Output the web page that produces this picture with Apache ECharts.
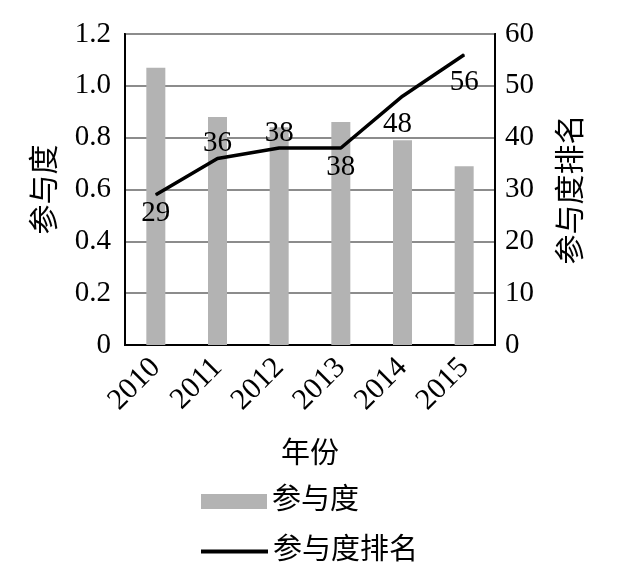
<!DOCTYPE html>
<html><head><meta charset="utf-8">
<script src="https://cdn.jsdelivr.net/npm/echarts@6/dist/echarts.min.js"></script>
<style>html,body{margin:0;padding:0;background:#fff}#c{width:621px;height:566px}</style>
</head><body><div id="c"></div>
<script>
const categories = ['2010','2011','2012','2013','2014','2015'];
const participation = [1.07, 0.88, 0.84, 0.86, 0.79, 0.69];
const ranking = [29, 36, 38, 38, 48, 56];
const rankLabelPos = ['bottom','top','top','bottom','bottom','bottom'];
const rankLabelOffset = [[0,0],[0,4],[0,4],[0,0],[-5,9],[0,9]];
const leftTicks = ['0','0.2','0.4','0.6','0.8','1.0','1.2'];

const FONT = "'Liberation Serif','Times New Roman','Noto Sans CJK SC',serif";
const chart = echarts.init(document.getElementById('c'));
chart.setOption({
  backgroundColor: '#fff',
  animation: false,
  textStyle: {fontFamily: FONT, color: '#000'},
  grid: {left: 125, right: 126, top: 34, bottom: 221, show: true, borderColor: '#000', borderWidth: 2, backgroundColor: 'transparent'},
  legend: [
    {data: ['参与度'], orient: 'vertical', left: 196, top: 482, itemWidth: 66, itemHeight: 15, itemGap: 10, icon: 'rect',
     textStyle: {fontFamily: FONT, fontSize: 29, color: '#000'}},
    {data: ['参与度排名'], orient: 'vertical', left: 196, top: 532, itemWidth: 67, itemHeight: 4, itemGap: 8, icon: 'rect',
     itemStyle: {color: '#000'},
     textStyle: {fontFamily: FONT, fontSize: 29, color: '#000'}}
  ],
  xAxis: {
    type: 'category', data: categories,
    name: '年份', nameLocation: 'middle', nameGap: 96,
    nameTextStyle: {fontFamily: FONT, fontSize: 29, color: '#000'},
    axisLine: {lineStyle: {color: '#000', width: 2}}, axisTick: {show: false},
    axisLabel: {rotate: 45, fontSize: 30, fontFamily: FONT, color: '#000', margin: 18}
  },
  yAxis: [
    {type: 'value', min: 0, max: 1.2, interval: 0.2,
     name: '参与度', nameLocation: 'middle', nameGap: 64, nameRotate: 90,
     nameTextStyle: {fontFamily: FONT, fontSize: 30, color: '#000'},
     axisLine: {show: true, lineStyle: {color: '#000', width: 2}}, axisTick: {show: false},
     axisLabel: {fontSize: 29, fontFamily: FONT, color: '#000', margin: 14,
       formatter: v => leftTicks[Math.round(v / 0.2)]},
     splitLine: {lineStyle: {color: '#8c8c8c', width: 2}}},
    {type: 'value', min: 0, max: 60, interval: 10,
     name: '参与度排名', nameLocation: 'middle', nameGap: 62, nameRotate: 90,
     nameTextStyle: {fontFamily: FONT, fontSize: 30, color: '#000'},
     axisLine: {show: true, lineStyle: {color: '#000', width: 2}}, axisTick: {show: false},
     axisLabel: {fontSize: 29, fontFamily: FONT, color: '#000', margin: 10},
     splitLine: {show: false}}
  ],
  series: [
    {name: '参与度', type: 'bar', data: participation, barWidth: 19,
     itemStyle: {color: '#b3b3b3'}, z: 1},
    {name: '参与度排名', type: 'line', yAxisIndex: 1, symbol: 'circle', symbolSize: 1, showSymbol: true,
     lineStyle: {color: '#000', width: 3.5}, itemStyle: {color: '#000'}, z: 3,
     data: ranking.map((v, i) => ({value: v, label: {position: rankLabelPos[i], offset: rankLabelOffset[i]}})),
     label: {show: true, fontSize: 29, fontFamily: FONT, color: '#000', distance: 4}}
  ]
});
</script></body></html>
